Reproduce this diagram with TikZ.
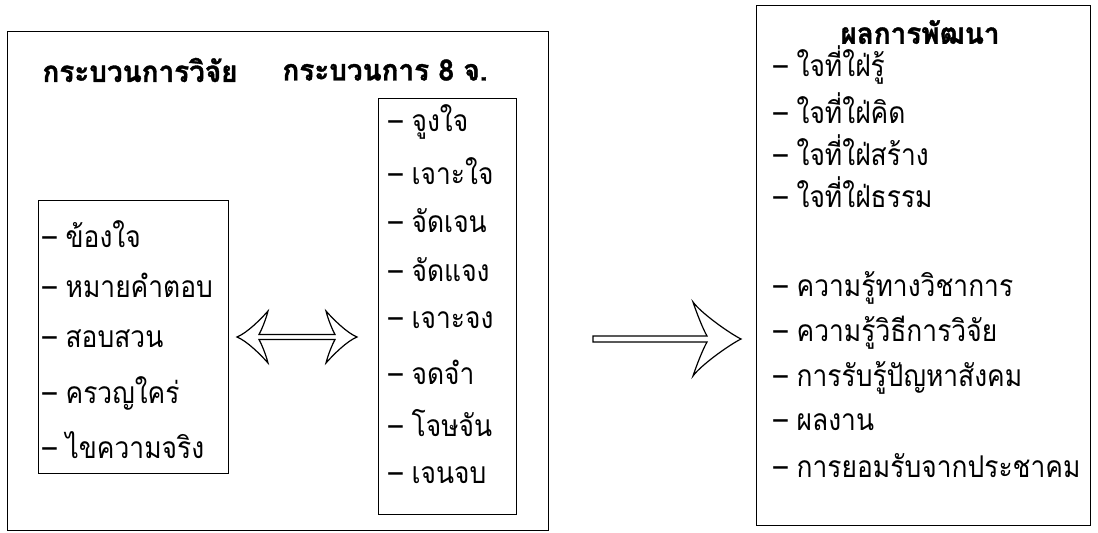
\documentclass[tikz,border=0pt]{standalone}
\usepackage{fontspec}
\newfontfamily\thaifont[Script=Thai,FakeStretch=0.88]{Loma}
\newfontfamily\thaibold[Script=Thai,FakeStretch=0.95,FakeBold=1.2]{Loma}
\begin{document}
\begin{tikzpicture}[x=0.75pt,y=-0.75pt,
  box/.style={draw=black,line width=1.1pt,anchor=north west,inner sep=0pt},
  item/.style={anchor=west,inner sep=0pt,font=\thaifont\fontsize{22.5}{22.5}\selectfont},
  ttl/.style={anchor=center,inner sep=0pt,font=\thaibold\bfseries\fontsize{22}{22}\selectfont},
  arr/.style={draw=black,line width=0.9pt,fill=white,line join=miter}]
\useasboundingbox (0,0) rectangle (1098,532);
% boxes
\node[box,minimum width=405.75pt,minimum height=374.25pt] (outer) at (7,31) {};
\node[box,minimum width=142.5pt,minimum height=204.75pt] (inner) at (38,200) {};
\node[box,minimum width=103.5pt,minimum height=312pt] (mid) at (378,98) {};
\node[box,minimum width=250.5pt,minimum height=390pt] (res) at (756,5) {};
% titles
\node[ttl] (t1) at (140,70) {กระบวนการวิจัย};
\node[ttl] (t2) at (385,70) {กระบวนการ 8 จ.};
\node[ttl] (t3) at (920,32) {ผลการพัฒนา};
% left inner items
\node[item] (l1) at (42,234) {– ข้องใจ};
\node[item] (l2) at (42,285) {– หมายคำตอบ};
\node[item] (l3) at (42,339) {– สอบสวน};
\node[item] (l4) at (42,393) {– ครวญใคร่};
\node[item] (l5) at (42,445) {– ไขความจริง};
% middle items
\node[item] (m1) at (388,122) {– จูงใจ};
\node[item] (m2) at (388,171) {– เจาะใจ};
\node[item] (m3) at (388,221) {– จัดเจน};
\node[item] (m4) at (388,270) {– จัดแจง};
\node[item] (m5) at (388,320) {– เจาะจง};
\node[item] (m6) at (388,372) {– จดจำ};
\node[item] (m7) at (388,423) {– โจษจัน};
\node[item] (m8) at (388,475) {– เจนจบ};
% right items
\node[item] (r1) at (773,65) {– ใจที่ใฝ่รู้};
\node[item] (r2) at (773,108) {– ใจที่ใฝ่คิด};
\node[item] (r3) at (773,150) {– ใจที่ใฝ่สร้าง};
\node[item] (r4) at (773,192) {– ใจที่ใฝ่ธรรม};
\node[item] (r5) at (773,288) {– ความรู้ทางวิชาการ};
\node[item] (r6) at (773,333) {– ความรู้วิธีการวิจัย};
\node[item] (r7) at (773,378) {– การรับรู้ปัญหาสังคม};
\node[item] (r8) at (773,422) {– ผลงาน};
\node[item] (r9) at (773,466) {– การยอมรับจากประชาคม};
% double arrow
\coordinate (dbl) at (297,337);
\begin{scope}[shift={(dbl)}]
\draw[arr] (-60,0) .. controls (-50,-4) and (-36,-18) .. (-29,-26)
  .. controls (-31,-18) and (-35,-8) .. (-38,-2.5) -- (38,-2.5)
  .. controls (35,-8) and (31,-18) .. (29,-26)
  .. controls (36,-18) and (50,-4) .. (60,0)
  .. controls (50,4) and (36,18) .. (29,26)
  .. controls (31,18) and (35,8) .. (38,2.5) -- (-38,2.5)
  .. controls (-35,8) and (-31,18) .. (-29,26)
  .. controls (-36,18) and (-50,4) .. (-60,0) -- cycle;
\end{scope}
% single arrow
\coordinate (sgl) at (741,339);
\begin{scope}[shift={(sgl)}]
\draw[arr] (0,0) .. controls (-12,-6) and (-40,-26) .. (-48,-37)
  .. controls (-44,-25) and (-38,-10) .. (-34,-3) -- (-148,-3) -- (-148,3) -- (-34,3)
  .. controls (-38,10) and (-44,25) .. (-48,37)
  .. controls (-40,26) and (-12,6) .. (0,0) -- cycle;
\end{scope}
\end{tikzpicture}
\end{document}
